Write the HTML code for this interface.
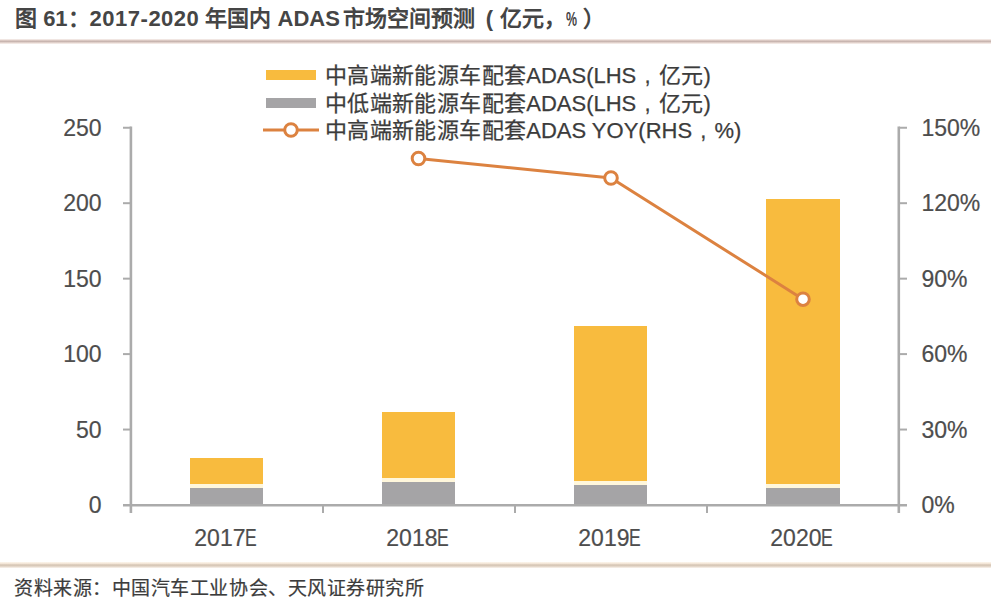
<!DOCTYPE html>
<html lang="zh-CN"><head><meta charset="utf-8">
<style>
html,body{margin:0;padding:0;background:#fff;}
body{width:991px;height:602px;position:relative;overflow:hidden;font-family:"Liberation Sans",sans-serif;}
.t{position:absolute;white-space:nowrap;line-height:1;}
#title{left:15px;top:8px;font-size:22px;font-weight:700;color:#454545;}
#title b{font-weight:700;}
.pc{display:inline-block;width:16.7px;font-size:20px;font-weight:700;}
.pc span{display:inline-block;transform:scaleX(0.62);transform-origin:left;}
.lp{display:inline-block;width:25px;padding-left:10.8px;box-sizing:border-box;}
.xe{display:inline-block;transform:scaleX(0.76);transform-origin:left;}
#foot{left:14px;top:579px;font-size:19px;color:#3C3C3C;font-weight:500;-webkit-text-stroke:0.2px #3C3C3C;letter-spacing:0.55px;}
.dg{letter-spacing:0.5px;}
.c{letter-spacing:0.36px;}
.cm{display:inline-block;width:22.36px;text-align:center;}
.hl{position:absolute;left:0;width:991px;}
.ax{font-size:23px;color:#4D4D4D;-webkit-text-stroke:0.2px #4D4D4D;}
.lg{font-size:22px;color:#3C3C3C;font-weight:500;-webkit-text-stroke:0.25px #3C3C3C;}
.xl{font-size:23px;color:#4D4D4D;-webkit-text-stroke:0.2px #4D4D4D;}
svg{position:absolute;left:0;top:0;}
</style></head>
<body>

<div class="t" id="title">图 <b>61</b>：<b class="dg">2017-2020</b> 年国内 <b>ADAS</b><span style="margin-left:-3px"> 市场空间预测</span><span class="lp">(</span>亿元，<span class="pc"><span>%</span></span>）</div>
<div class="hl" style="top:39px;height:5px;background:linear-gradient(to bottom,#FCF6F3 0%,#DCCAC4 28%,#C8B5B0 50%,#E2D2CC 72%,#FBF4F1 100%);"></div>
<div class="hl" style="top:562px;height:6px;background:linear-gradient(to bottom,#FDF7EE 0%,#F3E6D8 25%,#D4C4B3 50%,#DCCDBE 66%,#FAF4EE 100%);"></div>
<div class="t" id="foot">资料来源：中国汽车工业协会、天风证券研究所</div>
<svg width="991" height="602" viewBox="0 0 991 602">
<rect x="190" y="458" width="73" height="26" fill="#F8BB3E"/>
<rect x="190" y="488" width="73" height="17" fill="#A5A4A6"/>
<rect x="190" y="484" width="73" height="4" fill="#FFF7DC"/>
<rect x="382" y="412" width="73" height="66" fill="#F8BB3E"/>
<rect x="382" y="482" width="73" height="23" fill="#A5A4A6"/>
<rect x="382" y="478" width="73" height="4" fill="#FFF7DC"/>
<rect x="574" y="326" width="73" height="155" fill="#F8BB3E"/>
<rect x="574" y="485" width="73" height="20" fill="#A5A4A6"/>
<rect x="574" y="481" width="73" height="4" fill="#FFF7DC"/>
<rect x="766" y="199" width="74" height="285" fill="#F8BB3E"/>
<rect x="766" y="488" width="74" height="17" fill="#A5A4A6"/>
<rect x="766" y="484" width="74" height="4" fill="#FFF7DC"/>
<g stroke="#ABABAB" stroke-width="2" fill="none">
<line x1="130.9" y1="126.5" x2="130.9" y2="513" stroke-width="2.6"/>
<line x1="898.8" y1="126.5" x2="898.8" y2="513" stroke-width="2.6"/>
<line x1="123" y1="505.3" x2="907" y2="505.3" stroke-width="2.4"/>
<line x1="323" y1="505" x2="323" y2="513"/>
<line x1="515" y1="505" x2="515" y2="513"/>
<line x1="707" y1="505" x2="707" y2="513"/>
<line x1="123" y1="127.75" x2="131" y2="127.75"/>
<line x1="899" y1="127.75" x2="907" y2="127.75"/>
<line x1="123" y1="203.20" x2="131" y2="203.20"/>
<line x1="899" y1="203.20" x2="907" y2="203.20"/>
<line x1="123" y1="278.65" x2="131" y2="278.65"/>
<line x1="899" y1="278.65" x2="907" y2="278.65"/>
<line x1="123" y1="354.10" x2="131" y2="354.10"/>
<line x1="899" y1="354.10" x2="907" y2="354.10"/>
<line x1="123" y1="429.55" x2="131" y2="429.55"/>
<line x1="899" y1="429.55" x2="907" y2="429.55"/>
</g>
<polyline points="418.5,158.5 611,178 803,299.2" fill="none" stroke="#DC8240" stroke-width="3" stroke-linejoin="round"/>
<circle cx="418.5" cy="158.5" r="6.3" fill="#fff" stroke="#DC8240" stroke-width="3"/>
<circle cx="611" cy="178" r="6.3" fill="#fff" stroke="#DC8240" stroke-width="3"/>
<circle cx="803" cy="299.2" r="6.3" fill="#fff" stroke="#DC8240" stroke-width="3"/>
<rect x="266" y="70" width="50" height="10" fill="#F8BB3E"/>
<rect x="266" y="98" width="50" height="10" fill="#A5A4A6"/>
<line x1="263" y1="130" x2="319" y2="130" stroke="#DC8240" stroke-width="3"/>
<circle cx="291" cy="130" r="6.3" fill="#fff" stroke="#DC8240" stroke-width="3"/>
</svg>
<div class="t lg" style="left:325px;top:65px;"><span class="c">中高端新能源车配套</span>ADAS(LHS<span class="cm">,</span><span class="c">亿元</span>)</div>
<div class="t lg" style="left:325px;top:93px;"><span class="c">中低端新能源车配套</span>ADAS(LHS<span class="cm">,</span><span class="c">亿元</span>)</div>
<div class="t lg" style="left:325px;top:120px;"><span class="c">中高端新能源车配套</span>ADAS YOY(RHS<span class="cm">,</span>%)</div>
<div class="t ax" style="right:889.5px;top:116.75px;">250</div>
<div class="t ax" style="right:889.5px;top:192.20px;">200</div>
<div class="t ax" style="right:889.5px;top:267.65px;">150</div>
<div class="t ax" style="right:889.5px;top:343.10px;">100</div>
<div class="t ax" style="right:889.5px;top:418.55px;">50</div>
<div class="t ax" style="right:889.5px;top:494.00px;">0</div>
<div class="t ax" style="left:921.5px;top:116.75px;">150%</div>
<div class="t ax" style="left:921.5px;top:192.20px;">120%</div>
<div class="t ax" style="left:921.5px;top:267.65px;">90%</div>
<div class="t ax" style="left:921.5px;top:343.10px;">60%</div>
<div class="t ax" style="left:921.5px;top:418.55px;">30%</div>
<div class="t ax" style="left:921.5px;top:494.00px;">0%</div>
<div class="t xl" style="left:194.3px;top:526.5px;">2017<span class="xe">E</span></div>
<div class="t xl" style="left:386.3px;top:526.5px;">2018<span class="xe">E</span></div>
<div class="t xl" style="left:578.3px;top:526.5px;">2019<span class="xe">E</span></div>
<div class="t xl" style="left:770.3px;top:526.5px;">2020<span class="xe">E</span></div>
</body></html>
